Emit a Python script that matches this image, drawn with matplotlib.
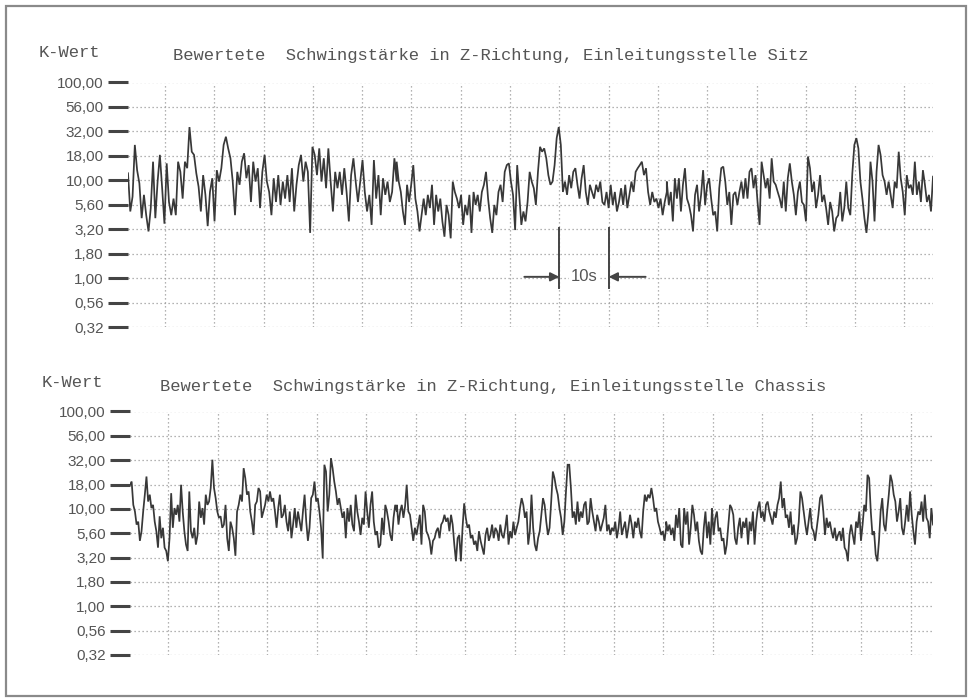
import numpy as np
import matplotlib
matplotlib.use("Agg")
import matplotlib.pyplot as plt
from matplotlib.ticker import NullLocator, FixedLocator, NullFormatter

# ---------------- data (K-Wert readings) ----------------
TITLE_TOP = "Bewertete  Schwingstärke in Z-Richtung, Einleitungsstelle Sitz"
TITLE_BOT = "Bewertete  Schwingstärke in Z-Richtung, Einleitungsstelle Chassis"
Y_LABEL = "K-Wert"
Y_TICKS = [10 ** (k / 4) for k in range(-2, 9)]
Y_TICK_LABELS = ["0,32", "0,56", "1,00", "1,80", "3,20", "5,60",
                 "10,00", "18,00", "32,00", "56,00", "100,00"]

# seat (Sitz) - three consecutive stretches of the record
SITZ_1 = [11.8, 4.8, 6.8, 23, 12.7, 9.3, 4.1, 7.1, 4.4, 3.0, 5.2, 15.5, 4.1, 9.7, 18.2,
          8.3, 3.6, 14.9, 6.0, 4.4, 6.5, 4.4, 15.5, 12.2, 6.5, 15.5, 13.3, 35, 19.6, 18.2,
          11.8, 8.6, 4.8, 11.3, 7.1, 3.4, 7.6, 10.5, 3.8, 12.7, 9.7, 13.3, 23, 27.9, 21.2,
          16.8, 9.7, 4.4, 12.2, 9.0, 15.5, 18.9, 10.5, 14.3, 6.0, 15.5, 9.7, 13.3, 5.2, 12.2,
          18.2, 9.7, 7.6, 4.4, 10.5, 6.0, 11.3, 5.6, 9.7, 6.5, 11.3, 6.0, 13.3, 4.8, 9.0,
          14.3, 18.2, 9.7, 15.5, 12.2, 2.9, 22, 18.2, 11.3, 21.2, 9.7, 16.8, 8.3, 21.2, 9.7,
          4.8, 12.2, 8.3, 12.2, 7.1, 13.3, 7.6, 3.8, 11.3, 16.8, 9.7, 6.0, 9.7, 16.1, 7.6,
          4.8, 7.1, 3.5, 16.1, 6.5, 11.3, 4.4, 10.5, 7.1, 9.7, 6.0, 7.6, 16.8, 9.7]
SITZ_2 = [15.5, 9.7, 7.6, 4.8, 3.5, 9.0, 6.0, 9.0, 14.3, 6.5, 4.8, 3.0, 4.4, 6.5, 4.4,
          7.1, 5.2, 9.0, 3.5, 7.1, 4.8, 6.5, 3.8, 2.65, 5.6, 4.4, 2.55, 9.7, 7.6, 6.5,
          5.2, 7.1, 3.5, 5.6, 4.4, 7.1, 2.9, 7.6, 5.6, 7.1, 4.8, 7.6, 9.0, 12.2, 6.5,
          4.1, 2.9, 5.6, 4.4, 7.6, 9.0, 6.0, 12.2, 14.3, 14.9, 9.7, 7.1, 3.1, 14.3, 7.1,
          3.5, 4.8, 3.8, 6.0, 12.2, 9.7, 8.3, 5.6, 12.2, 22, 19.6, 21.2, 16.8, 11.3, 9.0,
          9.7, 14.3, 27, 35, 23, 7.6, 9.7, 7.1, 11.3, 8.3, 12.2, 13.3, 9.0, 6.5, 10.5,
          14.3, 7.6, 5.6, 9.0, 7.6, 6.5, 9.0, 7.6, 9.7, 6.0, 5.6, 7.6, 5.2, 9.0, 5.6,
          7.6, 4.8, 6.0, 8.3, 5.6, 9.0, 5.2, 7.1, 9.7, 7.6, 12.2, 13.3, 14.3, 15.5, 11.3,
          13.3, 7.6, 5.6, 7.6, 6.0, 6.5, 5.2, 6.5, 4.4, 6.0, 7.6]
SITZ_3 = [9.7, 5.6, 7.6, 3.8, 10.5, 6.5, 10.5, 4.8, 9.0, 13.3, 6.5, 5.6, 4.4, 3.0, 7.1,
          9.0, 4.8, 7.1, 12.7, 5.6, 9.0, 10.5, 6.5, 4.4, 4.8, 3.0, 8.3, 13.3, 13.8, 9.7,
          5.6, 7.6, 3.5, 7.1, 7.6, 5.6, 7.6, 9.7, 6.5, 10.5, 6.5, 12.2, 13.3, 8.3, 11.3,
          6.0, 3.5, 15.5, 11.3, 8.3, 10.5, 6.5, 16.8, 9.7, 9.0, 7.6, 6.5, 5.2, 9.7, 4.8,
          10.5, 14.9, 9.7, 7.1, 4.4, 7.6, 9.7, 6.0, 5.6, 3.8, 17.5, 13.3, 7.6, 9.7, 5.2,
          7.1, 11.3, 6.0, 7.1, 5.2, 3.5, 6.0, 4.8, 3.0, 4.1, 4.4, 7.6, 3.8, 5.2, 9.7,
          5.2, 4.4, 11.8, 23, 27, 21.2, 9.7, 6.5, 4.1, 2.9, 4.8, 15.5, 9.7, 3.8, 12.2,
          23, 18.2, 11.3, 9.7, 7.1, 9.7, 7.1, 5.2, 9.7, 8.3, 19.6, 10.5, 7.6, 4.4, 11.3,
          8.3, 9.0, 7.1, 15.5, 7.1, 9.7, 6.0, 12.7, 9.0, 6.0, 7.1, 4.8, 10.9]

# chassis - three consecutive stretches of the record
CHASSIS_1 = [17.7, 19.1, 11.0, 9.4, 6.9, 7.4, 4.7, 5.9, 9.4, 14.0, 21.5, 11.9, 14.0, 10.2,
             11.0, 7.4, 5.9, 4.0, 8.4, 5.0, 6.4, 4.0, 3.7, 2.9, 5.0, 14.5, 6.4, 10.2, 8.7,
             11.0, 7.4, 17.7, 9.4, 5.9, 4.3, 3.7, 15.1, 5.9, 5.0, 6.4, 4.3, 5.4, 11.9, 8.1,
             10.2, 6.9, 14.0, 11.0, 11.9, 16.4, 32, 16.4, 12.9, 9.4, 8.1, 8.4, 6.4, 6.9,
             11.0, 5.0, 3.7, 7.4, 6.4, 5.0, 3.3, 9.4, 11.0, 14.0, 11.9, 26.2, 20.7, 14.0,
             15.1, 9.4, 7.4, 5.4, 11.0, 11.9, 16.4, 15.1, 8.1, 9.4, 11.0, 14.0, 11.9, 15.1,
             11.9, 12.9, 9.4, 6.4, 10.2, 14.0, 8.1, 8.7, 11.0, 7.4, 5.9, 9.4, 5.0, 6.9,
             10.2, 6.4, 9.4, 7.4, 5.9, 9.4, 14.0, 7.4, 4.7, 6.4, 12.9, 14.0, 19.1, 11.9,
             12.9, 9.4, 6.4, 3.1, 28.4, 24.2, 9.4, 14.0, 33.2, 26.2, 19.1, 15.1, 11.0, 12.9,
             10.2, 8.1, 9.4, 5.0, 10.2, 7.4, 11.0, 6.9, 5.9, 14.0, 9.4, 7.4, 5.4, 8.1, 6.9,
             15.1, 9.4, 6.4, 11.0, 15.1, 7.4, 5.4, 5.9, 4.0, 4.3, 8.1, 5.4, 11.0, 9.4, 7.4,
             5.4, 4.7, 8.1, 11.0, 9.4]
CHASSIS_2 = [11.0, 6.9, 9.4, 11.0, 8.1, 10.6, 17.7, 9.4, 8.7, 6.4, 4.7, 6.4, 5.4, 6.9,
             8.7, 4.3, 11.0, 9.4, 5.9, 5.4, 4.7, 3.4, 4.7, 5.0, 5.9, 6.4, 5.0, 6.9, 7.4,
             8.7, 7.4, 8.1, 5.9, 8.7, 6.9, 4.3, 2.9, 5.0, 5.4, 2.9, 6.4, 11.4, 8.1, 6.4,
             6.9, 5.0, 5.4, 4.3, 4.7, 3.7, 5.9, 4.7, 4.0, 3.4, 5.4, 6.4, 4.7, 5.4, 6.9,
             5.0, 6.4, 5.9, 4.7, 6.9, 5.4, 5.0, 6.4, 8.7, 4.3, 5.9, 5.0, 7.4, 5.4, 6.4,
             7.4, 10.2, 12.9, 11.0, 8.1, 9.4, 4.3, 5.9, 14.0, 6.4, 4.3, 3.7, 5.0, 5.9, 8.7,
             12.9, 11.0, 7.4, 5.4, 6.4, 11.9, 24.2, 20.7, 16.4, 14.0, 10.2, 8.1, 5.4, 7.4,
             15.1, 28.4, 28.4, 16.4, 8.1, 9.4, 6.9, 11.9, 7.4, 9.4, 8.1, 11.0, 11.9, 6.9,
             7.4, 12.9, 9.4, 7.4, 5.9, 8.7, 7.4, 5.9, 6.9, 8.1, 11.0, 5.9, 6.9, 5.4, 6.4,
             5.9, 7.4, 5.0, 6.4, 9.4, 5.4, 6.4, 7.4, 5.0, 6.4, 8.7, 6.9, 5.0, 7.4, 6.4,
             8.1, 5.9, 5.0, 9.4, 14.0, 11.9, 14.0, 12.9, 16.4, 12.9, 9.4, 10.2, 7.4, 6.4,
             5.4, 5.9, 4.7, 6.4]
CHASSIS_3 = [7.4, 5.9, 6.9, 5.4, 6.4, 4.7, 8.7, 6.4, 10.2, 4.3, 4.0, 10.2, 6.9, 9.4, 4.3,
             6.4, 11.0, 8.7, 5.9, 7.4, 4.7, 3.7, 3.4, 6.4, 9.4, 5.0, 7.4, 4.3, 10.2, 5.4,
             8.1, 9.4, 5.9, 6.4, 4.7, 5.0, 3.4, 4.3, 6.9, 11.0, 10.2, 8.7, 5.0, 4.3, 6.4,
             8.1, 5.0, 7.4, 6.4, 8.1, 4.3, 7.4, 5.9, 9.4, 4.3, 7.4, 10.2, 11.9, 8.1, 9.4,
             7.4, 11.0, 11.9, 9.4, 8.1, 6.9, 9.4, 8.1, 11.0, 12.9, 19.1, 10.2, 12.9, 8.1,
             8.7, 6.4, 9.4, 5.4, 6.9, 4.3, 5.0, 7.4, 15.1, 12.9, 9.4, 6.9, 5.4, 7.4, 10.2,
             6.4, 5.9, 4.7, 6.4, 8.7, 12.9, 14.0, 9.4, 5.4, 8.1, 6.4, 7.4, 5.9, 5.0, 6.4,
             4.7, 5.4, 5.9, 4.7, 6.4, 4.0, 3.7, 2.9, 5.4, 6.9, 5.4, 4.3, 7.4, 6.4, 9.4,
             4.7, 6.9, 11.0, 9.4, 22.4, 20.7, 9.4, 5.4, 5.9, 3.4, 2.9, 4.7, 9.4, 12.9, 6.9,
             5.9, 9.4, 14.0, 22.4, 19.1, 14.0, 11.9, 7.4, 9.4, 12.9, 6.4, 5.4, 7.4, 11.0,
             7.4, 15.1, 8.7, 5.9, 4.3, 7.4, 9.4, 8.7, 11.9, 7.4, 14.0, 8.1, 7.4, 5.0, 10.2,
             6.9]

# time spans (s) covered by the three stretches of each record
SPANS_TOP = [(0.0, 54.5), (54.5, 109.3), (109.3, 163.3)]
SPANS_BOT = [(0.0, 53.9), (53.9, 108.3), (108.3, 162.2)]
DUR_TOP, DUR_BOT = 163.3, 162.2
GRID0_TOP, GRID0_BOT = 7.5, 7.7          # first 10 s grid line
MARK_T, MARK_DT = 87.5, 10.0             # "10s" marker


def series(segments, spans):
    t, k = [], []
    for vals, (a, b) in zip(segments, spans):
        t.append(np.linspace(a, b, len(vals)))
        k.append(np.asarray(vals, float))
    return np.concatenate(t), np.concatenate(k)


W, H = 968, 698
fig = plt.figure(figsize=(W / 100, H / 100), dpi=100)
fig.patch.set_facecolor("white")

MONO = ["Liberation Mono", "DejaVu Sans Mono"]
SANS = ["Liberation Sans", "DejaVu Sans"]
TXT = "#555555"
LINE = "#383838"
GRID = "#9a9a9a"


def px_rect(x0, x1, ytop, ybot):
    return [x0 / W, 1 - ybot / H, (x1 - x0) / W, (ybot - ytop) / H]


def panel(rect, t, k, dur, grid0):
    ax = fig.add_axes(rect)
    ax.set_yscale("log")
    ax.set_ylim(Y_TICKS[0], Y_TICKS[-1])
    ax.set_xlim(0, dur)
    ax.yaxis.set_major_locator(FixedLocator(Y_TICKS))
    ax.yaxis.set_minor_locator(NullLocator())
    ax.set_yticklabels(Y_TICK_LABELS, fontfamily=SANS, fontsize=11, color=TXT)
    ax.xaxis.set_major_locator(FixedLocator(np.arange(grid0, dur, 10.0)))
    ax.xaxis.set_major_formatter(NullFormatter())
    ax.tick_params(axis="x", length=0)
    ax.tick_params(axis="y", direction="out", length=14.5, width=2.2,
                   color="#444444", pad=3)
    for s in ax.spines.values():
        s.set_visible(False)
    ax.grid(True, which="major", color=GRID, linestyle=(0, (1, 2.2)), linewidth=0.9)
    ax.set_axisbelow(True)
    ax.plot(t, k, color=LINE, linewidth=1.25, solid_joinstyle="miter")
    return ax


t1, k1 = series([SITZ_1, SITZ_2, SITZ_3], SPANS_TOP)
t2, k2 = series([CHASSIS_1, CHASSIS_2, CHASSIS_3], SPANS_BOT)

ax1 = panel(px_rect(128, 933, 82.5, 327), t1, k1, DUR_TOP, GRID0_TOP)
ax2 = panel(px_rect(130, 933, 411.5, 655), t2, k2, DUR_BOT, GRID0_BOT)

# "10s" marker in upper panel
for tm in (MARK_T, MARK_T + MARK_DT):
    ax1.plot([tm, tm], [3.25, 0.8], color="#444444", linewidth=1.4, clip_on=False)
arrow = dict(arrowstyle="-|>", color="#444444", lw=1.4, mutation_scale=13,
             shrinkA=0, shrinkB=0)
ax1.annotate("", xy=(MARK_T, 1.03), xytext=(MARK_T - 7.1, 1.03), arrowprops=arrow)
ax1.annotate("", xy=(MARK_T + MARK_DT, 1.03), xytext=(MARK_T + MARK_DT + 7.5, 1.03),
             arrowprops=arrow)
ax1.text(MARK_T + MARK_DT / 2, 1.03, "10s", ha="center", va="center",
         fontfamily=SANS, fontsize=12, color=TXT,
         bbox=dict(facecolor="white", edgecolor="none", pad=1.5))

# titles / axis labels
def ftext(x, y, s):
    fig.text(x / W, 1 - y / H, s, ha="left", va="baseline",
             fontfamily=MONO, fontsize=12.3, color=TXT)

ftext(39, 57, Y_LABEL)
ftext(173, 60, TITLE_TOP)
ftext(42, 387, Y_LABEL)
ftext(160, 391, TITLE_BOT)

# outer frame
fig.add_artist(plt.Rectangle((6 / W, 2 / H), 960 / W, 690 / H, transform=fig.transFigure,
                             fill=False, edgecolor="#8a8a8a", linewidth=1.6))

fig.savefig("out.png", dpi=100, facecolor="white")
